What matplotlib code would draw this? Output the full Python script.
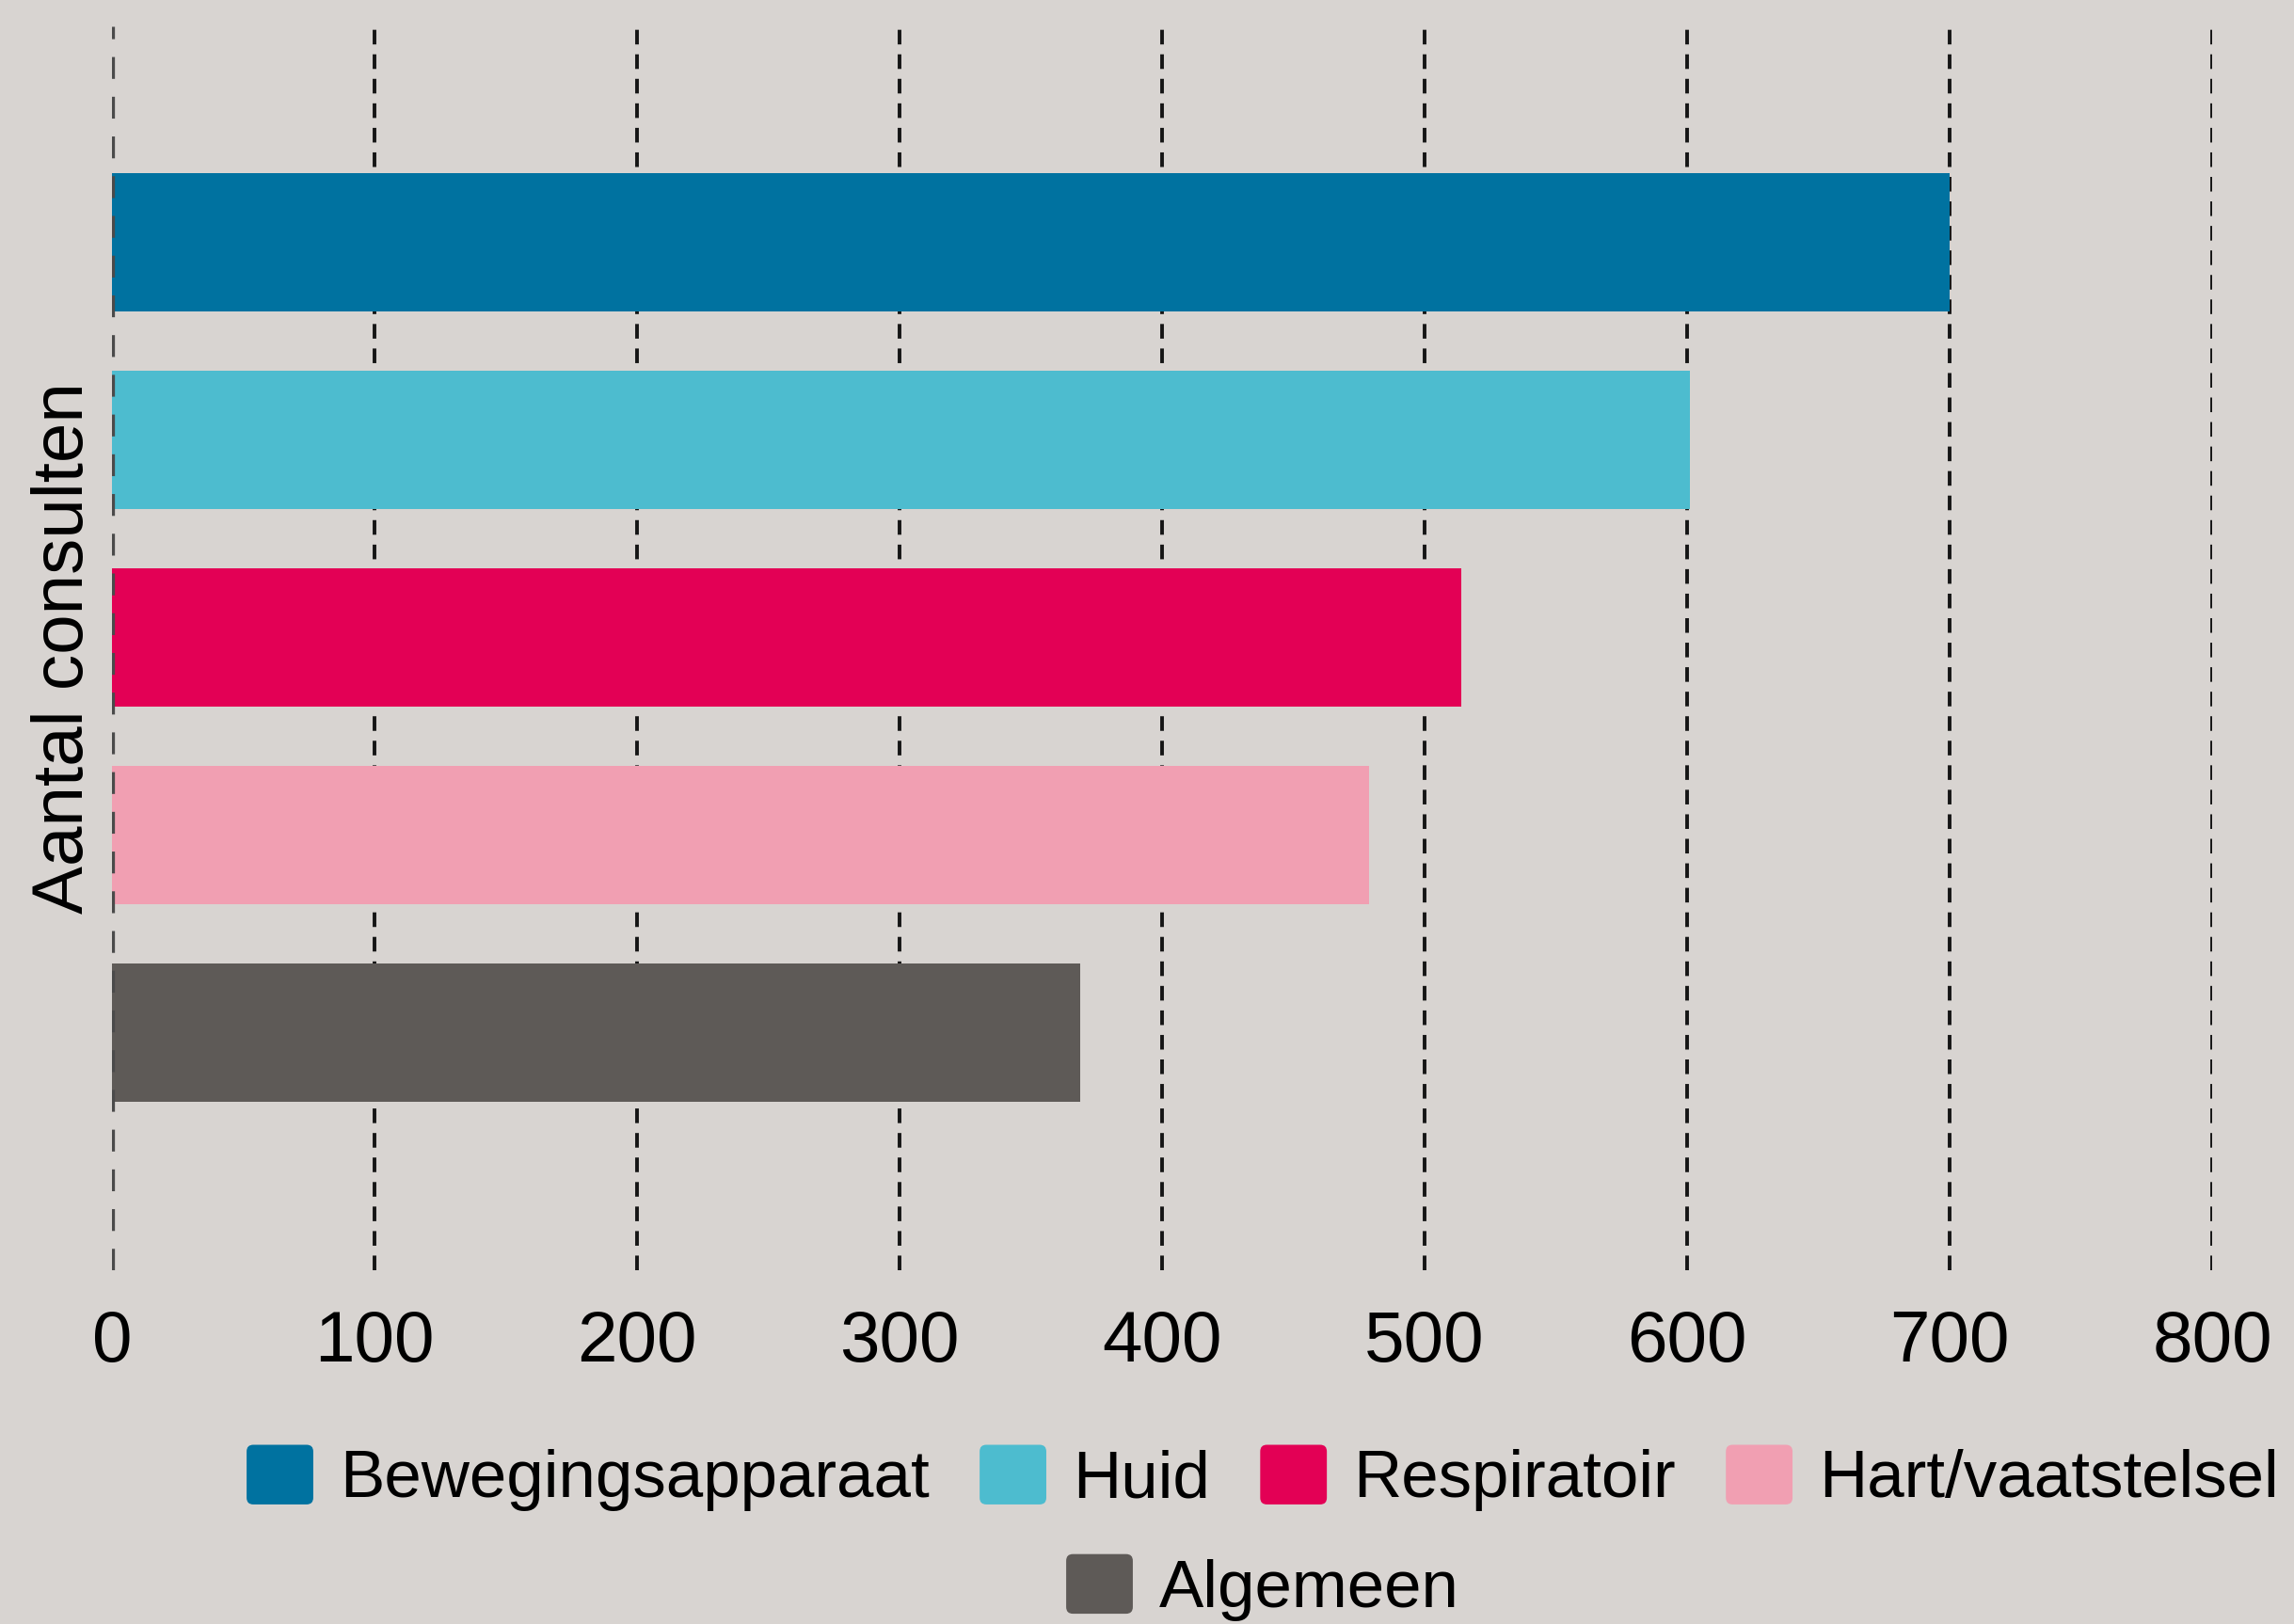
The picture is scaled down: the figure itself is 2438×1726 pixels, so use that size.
import matplotlib
matplotlib.use("Agg")
import matplotlib.pyplot as plt
from matplotlib.patches import Patch, FancyBboxPatch
from matplotlib.legend_handler import HandlerPatch

# Data
categories = ["Bewegingsapparaat", "Huid", "Respiratoir", "Hart/vaatstelsel", "Algemeen"]
values = [700, 601, 514, 479, 369]
colors = ["#0072A0", "#4DBCCF", "#E30055", "#F19FB2", "#5E5A57"]
xticks = [0, 100, 200, 300, 400, 500, 600, 700, 800]
ylabel = "Aantal consulten"

BG = "#D8D4D1"

plt.rcParams['font.family'] = ['Liberation Sans', 'DejaVu Sans']


def rounded_handle(legend, orig_handle, xdescent, ydescent, width, height, fontsize):
    return FancyBboxPatch((-xdescent, -ydescent), width, height,
                          boxstyle="round,pad=0,rounding_size=%f" % (0.1 * width))


fig = plt.figure(figsize=(24.38, 17.26), dpi=100, facecolor=BG)
ax = fig.add_axes([0.0488, 0.2178, 0.9155, 0.766])
ax.set_facecolor(BG)

# bars top to bottom
ypos = list(range(len(categories)))[::-1]
ax.barh(ypos, values, height=0.70, color=colors, zorder=2)

# gridlines behind bars, zero line on top
for t in xticks[1:]:
    ax.axvline(t, color="#151515", linewidth=2.8, linestyle=(0, (4.0, 2.7)), zorder=1)
ax.axvline(0, color="#4a4a4a", linewidth=3.8, linestyle=(0, (4.4, 3.6)), zorder=3)

ax.set_xlim(0, 800)
ax.set_ylim(-1.2, 5.09)
ax.set_xticks(xticks)
ax.set_xticklabels([str(t) for t in xticks])
ax.set_yticks([])
ax.tick_params(axis='x', length=0, pad=30, labelsize=55, colors='black')
for s in ax.spines.values():
    s.set_visible(False)

ax.set_ylabel(ylabel, fontsize=55, labelpad=11)

handles = [Patch(facecolor=c, edgecolor='none', label=l) for c, l in zip(colors, categories)]
hmap = {Patch: HandlerPatch(patch_func=rounded_handle)}
leg_kw = dict(frameon=False, fontsize=51, handlelength=1.0, handleheight=1.0,
              handletextpad=0.40, columnspacing=0.75, borderpad=0, borderaxespad=0,
              handler_map=hmap, loc='center')

leg1 = fig.legend(handles=handles[:4], ncol=4, bbox_to_anchor=(0.5505, 0.0898), **leg_kw)
leg2 = fig.legend(handles=handles[4:], ncol=1, bbox_to_anchor=(0.5505, 0.0225), **leg_kw)

fig.savefig("out.png", dpi=100, facecolor=BG)
